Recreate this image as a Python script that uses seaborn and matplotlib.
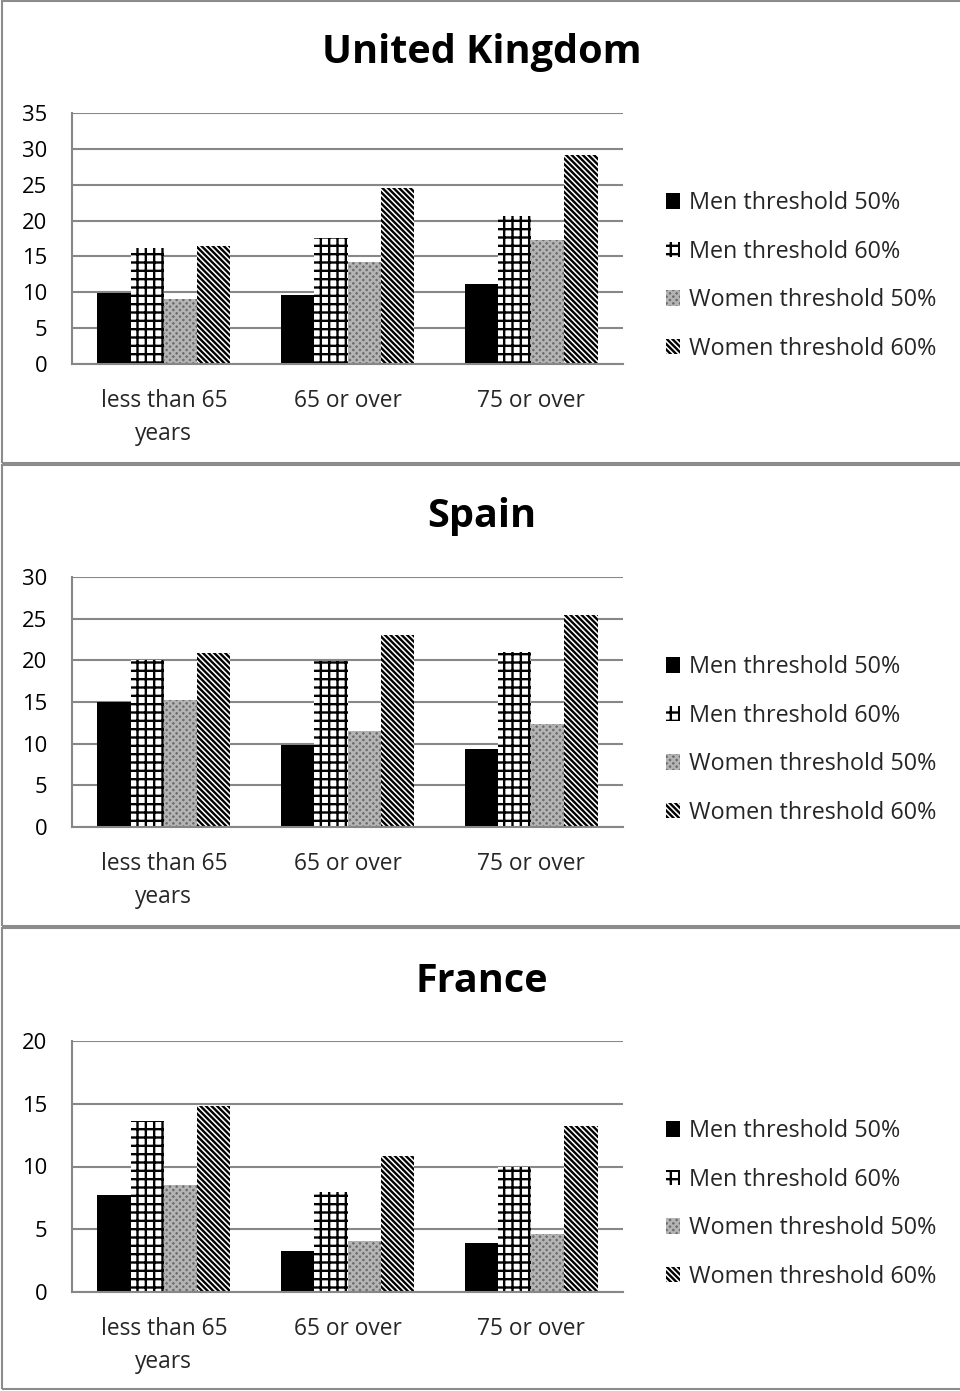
import matplotlib
matplotlib.use("Agg")
import matplotlib.pyplot as plt
from matplotlib.patches import Rectangle, Patch
import seaborn as sns
import pandas as pd

# Poverty rates (%) by age group, sex and poverty threshold
age_groups = ["less than 65\nyears", "65 or over", "75 or over"]
series = ["Men threshold 50%", "Men threshold 60%",
          "Women threshold 50%", "Women threshold 60%"]

uk_men_50 = [9.9, 9.6, 11.2]
uk_men_60 = [16.2, 17.6, 20.6]
uk_women_50 = [9.0, 14.2, 17.3]
uk_women_60 = [16.4, 24.5, 29.2]

es_men_50 = [15.0, 9.9, 9.4]
es_men_60 = [20.1, 19.9, 21.0]
es_women_50 = [15.2, 11.5, 12.4]
es_women_60 = [20.9, 23.1, 25.5]

fr_men_50 = [7.7, 3.3, 3.9]
fr_men_60 = [13.6, 8.0, 10.0]
fr_women_50 = [8.5, 4.1, 4.6]
fr_women_60 = [14.8, 10.8, 13.2]

countries = ["United Kingdom", "Spain", "France"]
y_max = [35, 30, 20]

country_values = {
    "United Kingdom": [uk_men_50, uk_men_60, uk_women_50, uk_women_60],
    "Spain": [es_men_50, es_men_60, es_women_50, es_women_60],
    "France": [fr_men_50, fr_men_60, fr_women_50, fr_women_60],
}

# bar styles per series: (face colour, hatch colour, hatch)
styles = [("black", "black", None),
          ("white", "black", "++"),
          ("#6c6c6c", "#b4b4b4", "xxxxx"),
          ("white", "black", "\\" * 6)]

sns.set_theme(style="white")
plt.rcParams["font.family"] = ["Open Sans", "DejaVu Sans"]
plt.rcParams["hatch.linewidth"] = 1.7

W, H = 960, 1391
fig = plt.figure(figsize=(W / 100, H / 100), dpi=100)

grid_col = "#878787"
panel_tops = [1, 465, 928]
panel_bottoms = [463, 926, 1389]
axes_tops = [113, 577, 1041]
axes_bottoms = [364, 827, 1292]
title_y = [53, 517, 981]
legend_y = [204, 668, 1132]


def style_bar(bar, fc, hc, hatch):
    bar.set_facecolor(fc)
    bar.set_edgecolor(hc)
    bar.set_linewidth(0)
    if hatch:
        bar.set_hatch(hatch)


for i, country in enumerate(countries):
    # panel frame
    fig.patches.append(Rectangle((2 / W, 1 - panel_bottoms[i] / H), (W + 10) / W,
                                 (panel_bottoms[i] - panel_tops[i]) / H,
                                 transform=fig.transFigure, fill=False,
                                 edgecolor="#8c8c8c", linewidth=1.5, zorder=0))

    vals = country_values[country]
    df = pd.DataFrame({
        "age": [a for s in vals for a in age_groups],
        "series": [series[k] for k, s in enumerate(vals) for _ in s],
        "value": [v for s in vals for v in s],
    })

    ax = fig.add_axes([72 / W, 1 - axes_bottoms[i] / H, (623 - 72) / W,
                       (axes_bottoms[i] - axes_tops[i]) / H])
    sns.barplot(data=df, x="age", y="value", hue="series", order=age_groups,
                hue_order=series, width=0.725, gap=0, dodge=True, ax=ax,
                legend=False, saturation=1, linewidth=0, palette=["white"] * 4)
    for k, cont in enumerate(ax.containers):
        for bar in cont:
            style_bar(bar, *styles[k])

    ax.set_xlim(-0.5, 2.5)
    ax.set_ylim(0, y_max[i])
    ax.set_yticks(range(0, y_max[i] + 1, 5))
    ax.yaxis.grid(True, color=grid_col, linewidth=1.5)
    ax.set_axisbelow(True)
    for side in ["top", "right"]:
        ax.spines[side].set_visible(False)
    for side in ["left", "bottom"]:
        ax.spines[side].set_color(grid_col)
        ax.spines[side].set_linewidth(1.5)
    ax.set_xlabel("")
    ax.set_ylabel("")
    ax.set_xticks([0, 1, 2])
    ax.set_xticklabels(age_groups, fontsize=16.4, linespacing=1.5)
    ax.set_xticks([-0.5, 0.5, 1.5, 2.5], minor=True)
    ax.tick_params(axis="x", which="major", length=0, pad=18)
    ax.tick_params(axis="x", which="minor", length=8, width=1.5, color=grid_col,
                   direction="out")
    ax.tick_params(axis="y", length=8, width=1.5, color=grid_col, direction="out",
                   labelsize=15.8, pad=10)
    for lab in ax.get_yticklabels():
        lab.set_color("black")

    fig.text(482 / W, 1 - title_y[i] / H, country, ha="center", va="center",
             fontsize=28.5, fontweight="bold", color="black")

    handles = []
    for (fc, hc, h), s in zip(styles, series):
        p = Patch(facecolor=fc, edgecolor=hc, hatch=h, linewidth=0, label=s)
        handles.append(p)
    fig.legend(handles=handles, loc="center left",
               bbox_to_anchor=(666 / W, 1 - (legend_y[i] + 72) / H),
               frameon=False, fontsize=16.8, handlelength=0.62, handleheight=0.62,
               handletextpad=0.35, labelspacing=1.05, borderaxespad=0,
               borderpad=0)

fig.savefig("out.png", dpi=100)
